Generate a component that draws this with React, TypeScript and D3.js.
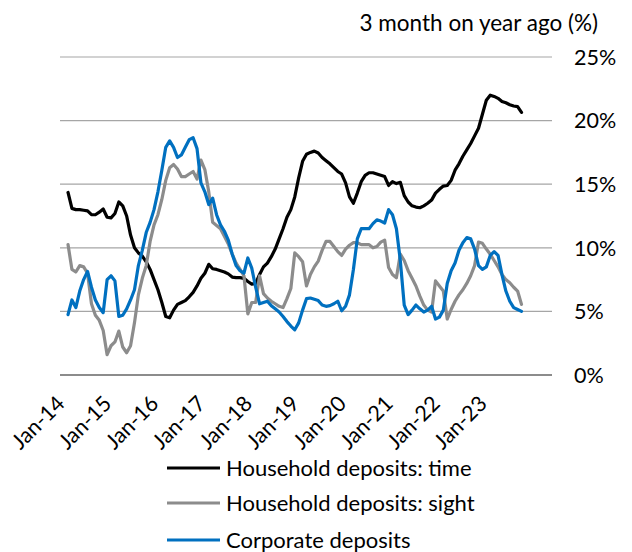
import React from "react";
import * as d3 from "d3";

// Monthly data, Jan-14 .. Sep-23 (index 0 = Jan-14)
const startYear = 2014;
const householdTime = [
  14.35, 13.1, 13.0, 13.0, 12.95, 12.9, 12.6, 12.6, 12.8, 13.05, 12.4, 12.35,
  12.7, 13.6, 13.3, 12.5, 11.0, 10.0, 9.6, 9.35, 8.9, 8.3, 7.5, 6.7,
  5.7, 4.6, 4.5, 5.1, 5.55, 5.7, 5.85, 6.15, 6.5, 7.0, 7.6, 8.0,
  8.7, 8.35, 8.3, 8.2, 8.1, 7.95, 7.7, 7.65, 7.65, 7.6, 7.35, 7.15,
  7.2, 7.9, 8.5, 8.8, 9.3, 9.9, 10.7, 11.5, 12.4, 13.0, 14.0, 15.5,
  16.8, 17.35, 17.5, 17.6, 17.45, 17.1, 16.85, 16.6, 16.3, 16.0, 15.8, 15.1,
  14.0, 13.5, 14.3, 15.2, 15.7, 15.9, 15.9, 15.8, 15.7, 15.6, 14.9, 15.2,
  15.05, 15.15, 14.1, 13.6, 13.3, 13.2, 13.15, 13.3, 13.5, 13.75, 14.3, 14.6,
  14.85, 14.9, 15.3, 16.1, 16.6, 17.2, 17.7, 18.2, 18.8, 19.4, 20.5, 21.6,
  22.0, 21.9, 21.75, 21.5, 21.4, 21.25, 21.15, 21.1, 20.65,
];
const householdSight = [
  10.25, 8.3, 8.1, 8.6, 8.5, 8.0, 5.6, 4.7, 4.3, 3.5, 1.6, 2.3,
  2.6, 3.45, 2.2, 1.75, 2.3, 4.1, 6.3, 7.6, 8.6, 10.5, 11.8, 12.6,
  13.8, 15.3, 16.3, 16.55, 16.2, 15.6, 15.6, 15.8, 16.0, 15.4, 16.9, 16.15,
  14.4, 12.0, 11.75, 11.5, 10.9, 10.3, 9.5, 8.8, 8.3, 7.8, 4.8, 5.7,
  5.7, 7.8, 6.4, 6.05, 5.8, 5.6, 5.4, 5.3, 6.0, 6.8, 9.6, 9.3,
  8.9, 7.0, 7.9, 8.5, 8.95, 9.8, 10.5, 10.5, 10.1, 9.7, 9.4, 9.9,
  10.2, 10.4, 10.4, 10.25, 10.25, 10.25, 10.0, 10.1, 10.45, 10.6, 8.45, 7.9,
  7.65, 9.5, 9.0, 8.2, 7.6, 7.0, 6.2, 5.5, 5.1, 4.95, 7.4, 7.0,
  6.6, 4.4, 5.15, 5.8, 6.3, 6.7, 7.2, 7.8, 8.6, 10.45, 10.35, 9.9,
  9.5, 9.0, 8.5, 7.9, 7.5, 7.25, 6.9, 6.6, 5.55,
];
const corporate = [
  4.75, 5.9, 5.3, 6.6, 7.5, 8.15, 6.9, 5.9, 5.3, 4.9, 7.5, 7.8,
  7.4, 4.6, 4.7, 5.2, 5.9, 6.7, 8.6, 9.8, 11.2, 12.0, 13.0, 14.4,
  16.1, 17.9, 18.4, 17.9, 17.1, 17.3, 17.9, 18.5, 18.65, 17.8, 15.1, 14.4,
  13.4, 13.9, 12.6, 11.8, 11.3, 10.6, 9.5, 8.6, 8.2, 8.0, 9.2, 8.4,
  6.9, 5.6, 5.7, 5.8, 5.45, 5.2, 4.95, 4.6, 4.2, 3.85, 3.55, 4.1,
  5.1, 6.0, 6.05, 5.95, 5.85, 5.5, 5.4, 5.45, 5.6, 5.8, 5.05, 5.4,
  6.3, 8.3, 10.7, 11.5, 11.5, 11.5, 11.9, 12.2, 12.1, 11.95, 13.0, 12.6,
  11.5, 9.0, 5.5, 4.75, 5.1, 5.5, 5.2, 4.95, 5.1, 5.4, 4.4, 4.55,
  5.1, 7.2, 8.2, 8.8, 9.8, 10.4, 10.8, 10.7, 9.9, 8.6, 8.3, 8.5,
  9.4, 9.7, 9.4, 7.9, 6.6, 5.8, 5.3, 5.15, 5.0,
];
const xTickLabels = ["Jan-14", "Jan-15", "Jan-16", "Jan-17", "Jan-18", "Jan-19", "Jan-20", "Jan-21", "Jan-22", "Jan-23"];
const yTicks = [0, 5, 10, 15, 20, 25];
const seriesNames = ["Household deposits: time", "Household deposits: sight", "Corporate deposits"];
const seriesColors = ["#000000", "#8C8C8C", "#0070C0"];

const FONT = "Lato, 'Noto Sans', sans-serif";

export default function App() {
  const W = 632, H = 552;
  const left = 60, right = 552, top = 57, bottom = 375;
  const x = d3.scaleLinear().domain([-2.05, 123.8]).range([left, right]);
  const y = d3.scaleLinear().domain([0, 25]).range([bottom, top]);
  const line = d3.line<number>().x((_, i) => x(i)).y((d) => y(d)).curve(d3.curveLinear);
  const series = [householdTime, householdSight, corporate];
  const tickIdx = xTickLabels.map((lab) => (parseInt(lab.slice(4), 10) + 2000 - startYear) * 12);

  return (
    <svg width={W} height={H} style={{ position: "absolute", left: 0, top: 0 }} fontFamily={FONT}>
      <rect width={W} height={H} fill="#fff" />
      {yTicks.map((t) => (
        <g key={t}>
          <line x1={left} x2={right} y1={y(t)} y2={y(t)} stroke={t === 0 ? "#8C8C8C" : "#A6A6A6"} strokeWidth={t === 0 ? 2.2 : 1.2} />
          <text x={574} y={y(t)} dy="0.36em" fontSize={21.5} fill="#000">{t}%</text>
        </g>
      ))}
      <text x={598} y={31} textAnchor="end" fontSize={22.5} fill="#000">3 month on year ago (%)</text>
      {tickIdx.map((m, i) => (
        <text key={i} transform={`translate(${x(m) - 2},${405}) rotate(-45)`} textAnchor="end" fontSize={21.5} fill="#000">
          {xTickLabels[i]}
        </text>
      ))}
      {series.map((s, i) => (
        <path key={i} d={line(s) || ""} fill="none" stroke={seriesColors[i]} strokeWidth={3.2} strokeLinejoin="round" strokeLinecap="round" />
      ))}
      {seriesNames.map((n, i) => {
        const ly = [468, 503, 540][i];
        return (
          <g key={n}>
            <line x1={167} x2={220} y1={ly} y2={ly} stroke={seriesColors[i]} strokeWidth={3.2} />
            <text x={226} y={ly} dy="0.36em" fontSize={22} fill="#000">{n}</text>
          </g>
        );
      })}
    </svg>
  );
}
